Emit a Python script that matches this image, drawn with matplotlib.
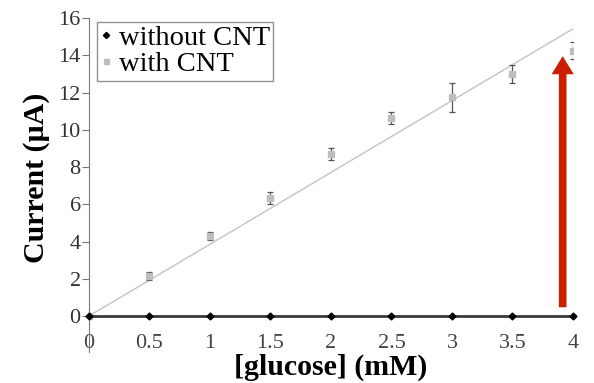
import numpy as np
import matplotlib.pyplot as plt

plt.rcParams['font.family'] = ['Liberation Serif', 'DejaVu Serif']

# glucose concentration (mM)
glucose = [0, 0.5, 1, 1.5, 2, 2.5, 3, 3.5, 4]
# current response (uA)
without_cnt = [0, 0, 0, 0, 0, 0, 0, 0, 0]
with_cnt = [0, 2.15, 4.3, 6.34, 8.7, 10.63, 11.75, 13.0, 14.25]
with_cnt_err = [0.1, 0.2, 0.22, 0.32, 0.3, 0.33, 0.78, 0.5, 0.45]
x_ticks = [0, 0.5, 1, 1.5, 2, 2.5, 3, 3.5, 4]
x_labels = ['0', '0.5', '1', '1.5', '2', '2.5', '3', '3.5', '4']
y_ticks = [0, 2, 4, 6, 8, 10, 12, 14, 16]

fig = plt.figure(figsize=(5.94, 3.83), dpi=100)
ax = fig.add_axes([0.1498, 0.081, 0.8148, 0.872])

x = np.array(glucose)
y = np.array(with_cnt)
# linear trendline through the origin
slope = np.sum(x * y) / np.sum(x * x)
xf = np.array([0, 4])
ax.plot(xf, slope * xf, color='#c8c8c8', lw=1.1, zorder=2)

no_cnt_line, = ax.plot(glucose, without_cnt, color='#3a3a3a', lw=2, marker='D',
                       ms=3.5, mfc='black', mec='black', zorder=4,
                       label='without CNT', clip_on=False)
eb = ax.errorbar(glucose, with_cnt, yerr=with_cnt_err, fmt='s', ms=4,
                 color='#bdbdbd', ecolor='#555555', elinewidth=0.9, capsize=2.5,
                 capthick=0.9, zorder=3, label='with CNT')

# red arrow at 4 mM
ax.annotate('', xy=(3.915, 14.1), xytext=(3.915, 0.32),
            arrowprops=dict(arrowstyle='simple,head_width=1.6,head_length=1.3,tail_width=0.55',
                            color='#cc1f00', lw=0), zorder=5)

ax.set_xlim(0, 4)
ax.set_ylim(-1.93, 16)
ax.set_yticks(y_ticks)
ax.set_xticks(x_ticks)
ax.set_xticklabels(x_labels)
ax.spines['top'].set_visible(False)
ax.spines['right'].set_visible(False)
ax.spines['bottom'].set_position(('data', 0))
ax.spines['bottom'].set_color('#3a3a3a')
ax.spines['left'].set_color('#777777')
ax.tick_params(axis='y', direction='out', length=5, color='#777777',
               labelsize=16, labelcolor='#333333', pad=1)
ax.tick_params(axis='x', length=0, labelsize=16, labelcolor='#444444', pad=13)

ax.set_xlabel('[glucose] (mM)', fontsize=21.5, fontweight='bold')
ax.xaxis.set_label_coords(0.5, -0.047)
ax.xaxis.label.set_va('center')
ax.set_ylabel('Current (µA)', fontsize=21.5, fontweight='bold')
ax.yaxis.set_label_coords(-0.109, 0.52)
ax.yaxis.label.set_va('center')

# legend shows only the markers, no line or error bar
leg = ax.legend([no_cnt_line, eb[0]], ['without CNT', 'with CNT'],
                loc='upper left', bbox_to_anchor=(0.016, 0.988),
                fontsize=20.5, frameon=True, fancybox=False,
                edgecolor='#777777', handlelength=0.4, handletextpad=0.25,
                borderpad=0.12, labelspacing=0.0, borderaxespad=0,
                markerscale=0.9)
leg.get_frame().set_linewidth(1)
for h in leg.legend_handles:
    h.set_linestyle('none')

fig.savefig('out.png', dpi=100)
